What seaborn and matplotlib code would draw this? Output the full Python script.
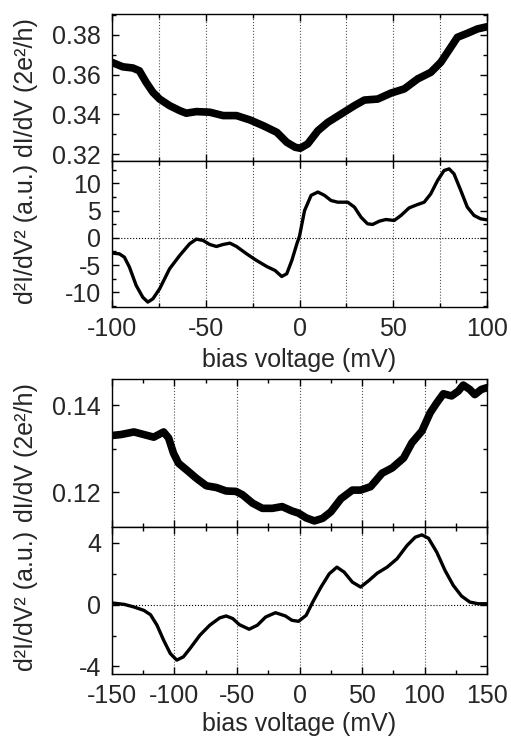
#!/usr/bin/env python3
# coding: utf-8

import numpy as np
import pandas as pd
import matplotlib
matplotlib.use("Agg")
import matplotlib.pyplot as plt
from matplotlib.ticker import MultipleLocator, FormatStrFormatter
import seaborn as sns

# --- top sample: dI/dV (bias -100..100 mV)
bias_a = [-100, -94.3, -88.9, -85.4, -81.8, -78.2, -74.6, -69.3, -63.9, -60.4, -55,
          -47.9, -40.7, -33.6, -26.4, -19.3, -12.1, -6.8, -2.3, 0.4, 4.4, 9.8, 15.1,
          22.2, 29.3, 34.6, 41.7, 48.8, 55.9, 63, 70, 75.4, 80.7, 84.2, 89.5, 94.9, 100]
didv_a = [0.3661, 0.3639, 0.3633, 0.3619, 0.3561, 0.3511, 0.3477, 0.3444, 0.3419,
          0.3406, 0.3414, 0.3411, 0.3394, 0.3394, 0.3372, 0.3343, 0.3310, 0.3260,
          0.3235, 0.3230, 0.3252, 0.3318, 0.3360, 0.3402, 0.3444, 0.3472, 0.3477,
          0.3507, 0.3528, 0.3578, 0.3611, 0.3662, 0.3737, 0.3787, 0.3807, 0.3829,
          0.3840]

# --- top sample: d2I/dV2
bias_a2 = [-100, -96.1, -93.4, -90.7, -87.1, -83.6, -80.9, -78.2, -74.6, -69.3, -63.9,
           -58.6, -55, -51.4, -47.9, -44.3, -40.7, -37.1, -33.6, -28.2, -22.9, -17.5,
           -13, -9.5, -6.8, -4.1, -1.4, 0, 2.7, 6.2, 9.8, 13.3, 16.8, 20.4, 25.7, 29.3,
           32.8, 36.3, 39, 42.6, 46.1, 50.5, 54.1, 58.5, 62.9, 66.5, 70, 73.6, 77.1,
           79.8, 82.4, 86, 89.5, 93.1, 96.6, 100]
d2idv2_a = [-2.81, -2.94, -3.55, -5.38, -8.75, -10.9, -11.8, -11.2, -9.36, -5.69,
            -3.24, -1.10, -0.24, -0.49, -1.22, -1.59, -1.22, -0.98, -1.59, -2.94,
            -4.16, -5.26, -6.0, -7.1, -6.6, -4.16, -1.10, 0.3, 5.0, 7.8, 8.4, 7.8,
            6.85, 6.54, 6.54, 5.63, 3.79, 2.57, 2.45, 3.06, 3.36, 3.18, 4.1, 5.5, 6.1,
            6.54, 8.07, 10.5, 12.35, 12.66, 11.74, 8.7, 5.63, 4.1, 3.49, 3.3]

# --- bottom sample: dI/dV (bias -150..150 mV)
bias_b = [-149.5, -142.9, -132.4, -124.5, -116.6, -108.7, -104.7, -100.8, -96.8,
          -88.9, -82.4, -74.5, -66.6, -58.7, -50.8, -45.5, -37.6, -29.7, -21.8, -13.9,
          -6.1, -0.8, 5.3, 11.9, 18.5, 25.1, 33.1, 42.3, 48.9, 56.9, 66.1, 74.1, 83.3,
          89.9, 97.9, 104.5, 109.8, 115.1, 121.7, 127, 131, 136.2, 140.2, 145.5, 150]
didv_b = [0.1331, 0.1333, 0.1339, 0.1333, 0.1327, 0.1339, 0.1325, 0.1290, 0.1267,
          0.1248, 0.1232, 0.1215, 0.1211, 0.1203, 0.1202, 0.1194, 0.1175, 0.1163,
          0.1163, 0.1167, 0.1157, 0.1152, 0.1141, 0.1134, 0.1140, 0.1155, 0.1185,
          0.1205, 0.1205, 0.1213, 0.1244, 0.1256, 0.1279, 0.1314, 0.1341, 0.1383,
          0.1406, 0.1427, 0.1422, 0.1433, 0.1447, 0.1437, 0.1425, 0.1437, 0.1441]

# --- bottom sample: d2I/dV2
bias_b2 = [-150, -140.3, -132.4, -124.5, -119.2, -114, -108.7, -103.4, -98.2, -92.9,
           -87.6, -79.7, -71.8, -63.9, -58.7, -53.4, -48.2, -40.3, -33.7, -27.1,
           -19.2, -11.3, -6.1, -0.8, 5.3, 10.6, 17.2, 23.8, 29.9, 35.7, 42.3, 48.9,
           55.6, 62.2, 70.1, 78, 86, 92.6, 97.9, 103.2, 109.8, 116.4, 123, 129.6,
           136.2, 142.9, 150]
d2idv2_b = [0.11, 0.02, -0.15, -0.37, -0.65, -1.33, -2.30, -3.16, -3.59, -3.38, -2.84,
            -1.98, -1.33, -0.86, -0.73, -0.90, -1.29, -1.59, -1.33, -0.80, -0.52,
            -0.73, -1.01, -1.08, -0.69, 0.17, 1.14, 2.0, 2.43, 2.11, 1.46, 1.14, 1.57,
            2.04, 2.43, 2.97, 3.83, 4.37, 4.52, 4.30, 3.40, 2.22, 1.25, 0.56, 0.17,
            0.06, 0.06]

sns.set_style("ticks")
plt.rcParams['font.family'] = ['Liberation Sans', 'DejaVu Sans']
plt.rcParams['axes.unicode_minus'] = False
plt.rcParams['font.size'] = 18

W, H = 511, 739
fig = plt.figure(figsize=(W / 100, H / 100), dpi=100)


def box(top, bottom, left=112, right=487):
    return [left / W, 1 - bottom / H, (right - left) / W, (bottom - top) / H]


def style(ax, xmaj, xmin, ymaj, ymin, grid_minor):
    ax.xaxis.set_major_locator(MultipleLocator(xmaj))
    ax.xaxis.set_minor_locator(MultipleLocator(xmin))
    ax.yaxis.set_major_locator(MultipleLocator(ymaj))
    ax.yaxis.set_minor_locator(MultipleLocator(ymin))
    ax.tick_params(which="both", direction="in", top=True, right=True,
                   labelsize=18, width=1, color="black")
    ax.tick_params(axis="x", pad=7)
    ax.tick_params(axis="y", pad=8)
    ax.tick_params(which="major", length=5)
    ax.tick_params(which="minor", length=3)
    ax.grid(False)
    ax.xaxis.grid(True, which="both" if grid_minor else "major",
                  linestyle=":", color="#555555", linewidth=0.8)
    for s in ax.spines.values():
        s.set_linewidth(1)
        s.set_color("black")
    ax.set_xlabel("")
    ax.set_ylabel("")


thick = dict(color="black", linewidth=5.5, sort=False,
             solid_capstyle="round", solid_joinstyle="round")
thin = dict(color="black", linewidth=2.4, sort=False,
            solid_capstyle="round", solid_joinstyle="round")

# panel 1
ax1 = fig.add_axes(box(14, 161))
sns.lineplot(x=bias_a, y=didv_a, ax=ax1, **thick)
ax1.set_xlim(-100, 100)
ax1.set_ylim(0.3166, 0.3904)
style(ax1, 50, 25, 0.02, 0.01, True)
ax1.tick_params(labelbottom=False)
ax1.yaxis.set_major_formatter(FormatStrFormatter("%.2f"))

# panel 2
ax2 = fig.add_axes(box(161, 307))
ax2.axhline(0, color="black", linestyle=":", linewidth=0.8)
sns.lineplot(x=bias_a2, y=d2idv2_a, ax=ax2, **thin)
ax2.set_xlim(-100, 100)
ax2.set_ylim(-12.7, 14.1)
style(ax2, 50, 25, 5, 2.5, True)
ax2.set_xlabel("bias voltage (mV)", fontsize=18, labelpad=5)

# panel 3
ax3 = fig.add_axes(box(379, 527))
sns.lineplot(x=bias_b, y=didv_b, ax=ax3, **thick)
ax3.set_xlim(-150, 150)
ax3.set_ylim(0.112, 0.1461)
style(ax3, 50, 25, 0.02, 0.01, False)
ax3.tick_params(labelbottom=False)
ax3.yaxis.set_major_formatter(FormatStrFormatter("%.2f"))

# panel 4
ax4 = fig.add_axes(box(527, 674))
ax4.axhline(0, color="black", linestyle=":", linewidth=0.8)
sns.lineplot(x=bias_b2, y=d2idv2_b, ax=ax4, **thin)
ax4.set_xlim(-150, 150)
ax4.set_ylim(-4.49, 5.03)
style(ax4, 50, 25, 4, 2, False)
ax4.set_xlabel("bias voltage (mV)", fontsize=18, labelpad=3)

# y labels at a common x position
for ax, lab in [(ax1, "dI/dV (2e²/h)"), (ax3, "dI/dV (2e²/h)"),
                (ax2, "d²I/dV² (a.u.)"), (ax4, "d²I/dV² (a.u.)")]:
    ax.set_ylabel(lab, fontsize=18)
    ax.yaxis.set_label_coords(-0.197, 0.5)

fig.savefig("out.png", dpi=100)
